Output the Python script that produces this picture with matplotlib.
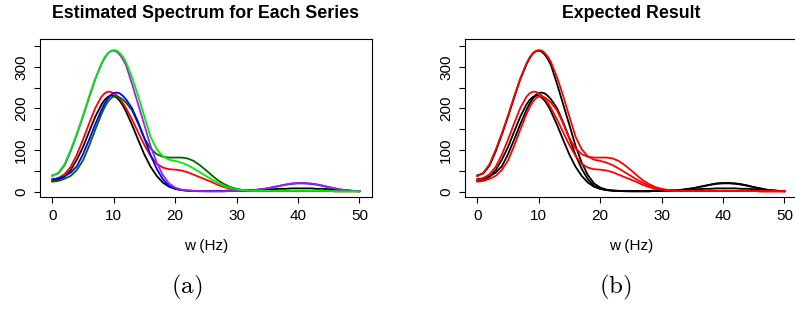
import numpy as np
import matplotlib
matplotlib.use("Agg")
import matplotlib.pyplot as plt

plt.rcParams['font.family'] = ['Liberation Sans', 'DejaVu Sans']
plt.rcParams['mathtext.fontset'] = 'cm'

# frequency grid (Hz), a bit finer round the peak
freq = [0, 1, 2, 3, 4, 5, 6, 7, 8, 8.5, 9, 9.5, 10, 10.5, 11, 11.5, 12,
        13, 14, 15, 16, 17, 18, 19, 20, 21, 22, 23, 24, 25, 26, 27, 28, 29, 30,
        31, 32, 33, 34, 35, 36, 37, 38, 39, 40, 41, 42, 43, 44, 45, 46, 47, 48, 49, 50]

# estimated spectra, one per series
spec_black = [26, 29, 36, 52, 77, 107, 144, 180,
              209, 220, 227, 231, 230, 226, 218, 207, 193,
              160, 124, 89, 60, 38, 22, 12, 7,
              4, 3, 2, 2, 2, 2, 2, 2, 3, 3,
              3, 4, 4, 5, 6, 6, 7, 7, 8, 8,
              8, 8, 7, 7, 6, 5, 4, 3, 2, 2]
spec_red = [28, 33, 42, 60, 89, 125, 164, 201,
            228, 236, 240, 240, 236, 231, 223, 213, 201,
            173, 142, 112, 86, 67, 58, 54, 53,
            51, 47, 41, 35, 29, 23, 16, 11, 7, 5,
            4, 3, 2, 2, 2, 2, 2, 2, 2, 2,
            2, 2, 2, 2, 2, 1, 1, 1, 1, 1]
spec_dkgreen = [24, 26, 31, 38, 52, 75, 110, 149,
                186, 202, 215, 224, 229, 229, 226, 221, 214,
                195, 163, 128, 104, 90, 84, 82, 82,
                82, 80, 74, 64, 52, 39, 27, 18, 11, 7,
                4, 3, 2, 2, 2, 2, 2, 2, 2, 2,
                2, 2, 2, 2, 2, 1, 1, 1, 1, 1]
spec_blue = [30, 32, 37, 46, 61, 90, 125, 162,
             196, 211, 223, 232, 237, 238, 236, 230, 222,
             200, 166, 128, 88, 55, 30, 14, 7,
             4, 2, 2, 1, 1, 1, 1, 1, 2, 2,
             2, 3, 4, 6, 8, 11, 14, 17, 19, 20,
             20, 19, 17, 14, 11, 8, 5, 3, 2, 1]
spec_purple = [39, 44, 63, 97, 137, 180, 226, 270,
               306, 320, 331, 337, 339, 336, 329, 318, 304,
               258, 209, 160, 110, 70, 40, 20, 10,
               5, 3, 2, 2, 1, 1, 1, 1, 2, 2,
               2, 3, 4, 6, 8, 11, 14, 17, 20, 21,
               21, 20, 18, 15, 11, 8, 5, 3, 2, 1]
spec_green = [37, 46, 66, 101, 140, 183, 229, 272,
              308, 322, 332, 338, 340, 339, 333, 324, 311,
              274, 229, 180, 132, 102, 85, 77, 74,
              70, 64, 56, 47, 38, 29, 21, 14, 9, 6,
              4, 3, 2, 2, 2, 2, 2, 2, 2, 2,
              2, 2, 2, 2, 2, 1, 1, 1, 1, 1]

series = [spec_black, spec_red, spec_dkgreen, spec_blue, spec_purple, spec_green]
colors_a = ['black', 'red', '#006400', 'blue', '#A020F0', '#00EE00']
# in the expected result the flat-tailed series are black, the shouldered ones red
colors_b = ['black', 'red', 'red', 'black', 'black', 'red']

xticks = [0, 10, 20, 30, 40, 50]
yticks = [0, 50, 100, 150, 200, 250, 300, 350]
ylabels = ['0', '', '100', '', '200', '', '300', '']

fig = plt.figure(figsize=(7.95, 3.2), dpi=100)
ax1 = fig.add_axes([0.0503, 0.3853, 0.4172, 0.4919])
ax2 = fig.add_axes([0.5849, 0.3853, 0.4172, 0.4919])


def style_axis(ax, title):
    ax.set_xlim(-2, 52)
    ax.set_ylim(-12, 366)
    ax.set_xticks(xticks)
    ax.set_yticks(yticks)
    ax.set_yticklabels(ylabels, rotation=90, va='center')
    ax.tick_params(direction='out', length=4.5, width=0.8, labelsize=11, pad=4)
    for s in ax.spines.values():
        s.set_linewidth(0.8)
    ax.set_xlabel('w (Hz)', fontsize=11, labelpad=12)
    ax.set_title(title, fontsize=12.8, fontweight='bold', pad=15)


for vals, c in zip(series, colors_a):
    ax1.plot(freq, vals, color=c, lw=1.3)
style_axis(ax1, 'Estimated Spectrum for Each Series')

# black ones first, red ones on top
order = [0, 3, 4, 1, 2, 5]
for i in order:
    ax2.plot(freq, series[i], color=colors_b[i], lw=1.3)
style_axis(ax2, 'Expected Result')

fig.text(186.7 / 795, 1 - 287 / 320, r'$\mathrm{(a)}$', ha='center', va='center', fontsize=18)
fig.text(615 / 795, 1 - 287 / 320, r'$\mathrm{(b)}$', ha='center', va='center', fontsize=18)

fig.savefig('out.png', dpi=100)
